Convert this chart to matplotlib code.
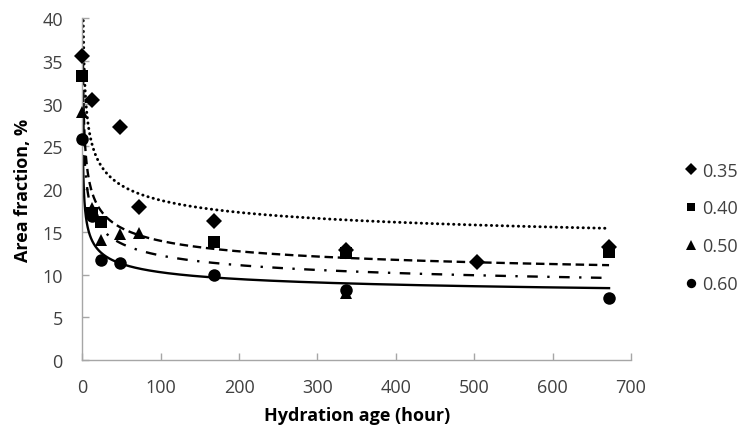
import numpy as np
import matplotlib
matplotlib.use("Agg")
import matplotlib.pyplot as plt
from matplotlib.lines import Line2D

# ---- data ----
labels = ["0.35", "0.40", "0.50", "0.60"]
x_035 = [0, 12, 48, 72, 168, 336, 504, 672]
y_035 = [35.6, 30.4, 27.2, 17.9, 16.3, 12.9, 11.5, 13.2]
x_040 = [0, 12, 24, 168, 336, 672]
y_040 = [33.2, 17.2, 16.1, 13.8, 12.5, 12.6]
x_050 = [0, 12, 24, 48, 72, 336]
y_050 = [29.0, 17.8, 14.0, 14.8, 14.9, 7.8]
x_060 = [0, 12, 24, 48, 168, 336, 672]
y_060 = [25.9, 16.8, 11.7, 11.3, 9.9, 8.2, 7.3]

# trend curves y = b + c * x**(-k) (coefficients)
trend_b = [11.15, 7.41, 6.2, 6.0]
trend_c = [30.0, 26.0, 24.0, 17.0]
trend_k = 0.3
trend_x_start = 0.85
trend_x_end = 672

x_ticks = [0, 100, 200, 300, 400, 500, 600, 700]
y_ticks = [0, 5, 10, 15, 20, 25, 30, 35, 40]

plt.rcParams['font.family'] = ['Open Sans', 'DejaVu Sans']

fig = plt.figure(figsize=(7.4, 4.35), dpi=100)
ax = fig.add_axes([0.1112, 0.170, 0.7415, 0.7862])

xs = [x_035, x_040, x_050, x_060]
ys = [y_035, y_040, y_050, y_060]
markers = ['D', 's', '^', 'o']
msizes = [8.0, 8.5, 9.0, 9.0]
styles = [(0, (0.1, 1.75)), (0, (3.6, 2.0)), (0, (4.5, 4.0, 1.0, 4.0)), '-']
widths = [2.1, 1.7, 1.7, 1.7]
caps = ['round', 'butt', 'butt', 'butt']

xx = np.geomspace(trend_x_start, trend_x_end, 800)
for b, c, ls, lw, cap in zip(trend_b, trend_c, styles, widths, caps):
    ax.plot(xx, b + c * xx ** (-trend_k), color='black', lw=lw, linestyle=ls,
            dash_capstyle=cap, zorder=2)

for x, y, m, s in zip(xs, ys, markers, msizes):
    ax.plot(x, y, linestyle='none', marker=m, markersize=s, color='black',
            markeredgewidth=0, zorder=3, clip_on=False)

ax.set_xlim(0, 700)
ax.set_ylim(0, 40)
ax.set_xticks(x_ticks)
ax.set_yticks(y_ticks)
for side in ['top', 'right']:
    ax.spines[side].set_visible(False)
for side in ['left', 'bottom']:
    ax.spines[side].set_color('#a6a6a6')
    ax.spines[side].set_linewidth(1.0)
ax.tick_params(axis='both', direction='in', length=5, width=1.0,
               color='#a6a6a6', labelsize=13, labelcolor='#404040')
ax.tick_params(axis='y', pad=14)
ax.tick_params(axis='x', pad=13)

ax.set_xlabel('Hydration age (hour)', fontsize=13, fontweight='bold',
              color='black', labelpad=7)
ax.set_ylabel('Area fraction, %', fontsize=13, fontweight='bold',
              color='black', labelpad=7)

handles = [Line2D([], [], linestyle='none', marker=m, markersize=s * 0.75,
                  color='black', markeredgewidth=0)
           for m, s in zip(markers, msizes)]
fig.legend(handles, labels, loc='center left', bbox_to_anchor=(0.905, 0.475),
           frameon=False, fontsize=13, labelcolor='#404040',
           handlelength=0.6, handletextpad=0.3, labelspacing=1.1)

fig.savefig('out.png', dpi=100)
